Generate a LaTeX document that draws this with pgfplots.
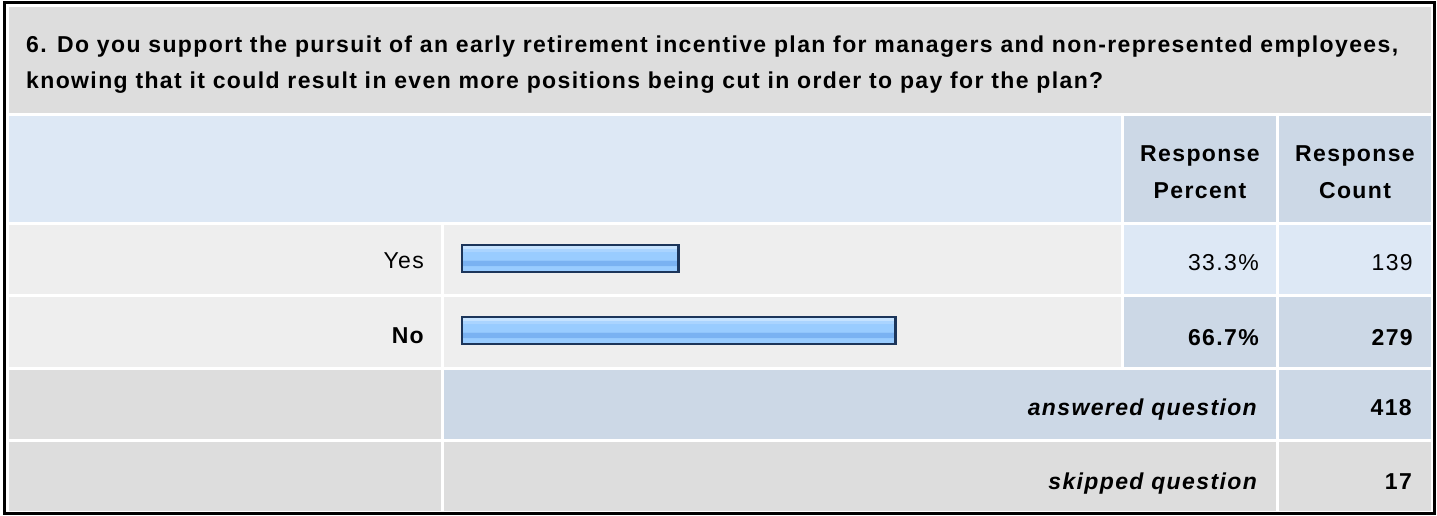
\documentclass[border=0pt]{standalone}
\usepackage{fontspec}
\usepackage{pgfplots}
\pgfplotsset{compat=1.18}
\setmainfont{Liberation Sans}[LetterSpace=6]

\definecolor{hdrgray}{HTML}{DDDDDD}
\definecolor{ltblue}{HTML}{DDE8F5}
\definecolor{midblue}{HTML}{CCD8E6}
\definecolor{rowgray}{HTML}{EEEEEE}
\definecolor{barline}{HTML}{1C355A}
\definecolor{bB}{HTML}{99CCFF}
\definecolor{bD}{HTML}{7AB2F2}
\definecolor{bL}{HTML}{AAD4FF}
\definecolor{bT}{HTML}{C6E3FF}

% banded fill of the bars (bottom -> top, box mapped to 25bp..75bp)
\pgfdeclareverticalshading{barshade}{100bp}{color(0bp)=(bB); color(25bp)=(bB);
  color(36bp)=(bB); color(37bp)=(bD); color(46.5bp)=(bD); color(47.5bp)=(bB);
  color(62bp)=(bB); color(63bp)=(bL); color(68.5bp)=(bL); color(69.5bp)=(bT);
  color(75bp)=(bT); color(100bp)=(bT)}

\begin{document}
\begin{tikzpicture}[txt/.style={inner sep=0pt, font=\fontsize{23}{36}\selectfont}]
% layout axis: one unit = one pixel of the reference, y from the top
\begin{axis}[
  name=lay, at={(0,0)}, anchor=south west,
  scale only axis, width=1437pt, height=515pt,
  xmin=0, xmax=1437, ymin=0, ymax=515, y dir=reverse,
  hide axis, clip=false]
\fill[white] (axis cs:0,0) rectangle (axis cs:1437,515);
\draw[black, line width=3pt] (axis cs:4.5,2) rectangle (axis cs:1434.5,513.5);
% title
\fill[hdrgray] (axis cs:9,7) rectangle (axis cs:1431,113);
% header row
\fill[ltblue] (axis cs:9,116) rectangle (axis cs:1121,222);
\fill[midblue] (axis cs:1124,116) rectangle (axis cs:1276,222);
\fill[midblue] (axis cs:1279,116) rectangle (axis cs:1431,222);
% Yes
\fill[rowgray] (axis cs:9,225) rectangle (axis cs:441,294);
\fill[rowgray] (axis cs:444,225) rectangle (axis cs:1121,294);
\fill[ltblue] (axis cs:1124,225) rectangle (axis cs:1276,294);
\fill[ltblue] (axis cs:1279,225) rectangle (axis cs:1431,294);
% No
\fill[rowgray] (axis cs:9,297) rectangle (axis cs:441,367);
\fill[rowgray] (axis cs:444,297) rectangle (axis cs:1121,367);
\fill[midblue] (axis cs:1124,297) rectangle (axis cs:1276,367);
\fill[midblue] (axis cs:1279,297) rectangle (axis cs:1431,367);
% answered
\fill[hdrgray] (axis cs:9,370) rectangle (axis cs:441,439);
\fill[midblue] (axis cs:444,370) rectangle (axis cs:1276,439);
\fill[midblue] (axis cs:1279,370) rectangle (axis cs:1431,439);
% skipped
\fill[hdrgray] (axis cs:9,442) rectangle (axis cs:441,511);
\fill[hdrgray] (axis cs:444,442) rectangle (axis cs:1276,511);
\fill[hdrgray] (axis cs:1279,442) rectangle (axis cs:1431,511);

\node[txt, anchor=base west] at (axis cs:26,52) {\bfseries 6. Do you support the pursuit of an early retirement incentive plan for managers and non-represented employees,};
\node[txt, anchor=base west] at (axis cs:26,88) {\bfseries knowing that it could result in even more positions being cut in order to pay for the plan?};
\node[txt, anchor=base] at (axis cs:1200,161) {\bfseries Response};
\node[txt, anchor=base] at (axis cs:1200,198) {\bfseries Percent};
\node[txt, anchor=base] at (axis cs:1355,161) {\bfseries Response};
\node[txt, anchor=base] at (axis cs:1355,198) {\bfseries Count};
\node[txt, anchor=base east] at (axis cs:424,268) {Yes};
\node[txt, anchor=base east] at (axis cs:424,343) {\bfseries No};
\node[txt, anchor=base east] at (axis cs:1259,270) {33.3\%};
\node[txt, anchor=base east] at (axis cs:1413,270) {139};
\node[txt, anchor=base east] at (axis cs:1259,345) {\bfseries 66.7\%};
\node[txt, anchor=base east] at (axis cs:1413,345) {\bfseries 279};
\node[txt, anchor=base east] at (axis cs:1257,415) {\bfseries\itshape answered question};
\node[txt, anchor=base east] at (axis cs:1412,415) {\bfseries 418};
\node[txt, anchor=base east] at (axis cs:1257,489) {\bfseries\itshape skipped question};
\node[txt, anchor=base east] at (axis cs:1412,489) {\bfseries 17};
\coordinate (bo) at (axis cs:462,367);
\end{axis}

% bar axis: response percent, 0..100
\begin{axis}[
  at={(bo)}, anchor=south west,
  scale only axis, width=650pt, height=142pt,
  xmin=0, xmax=100, ymin=225, ymax=367, y dir=reverse,
  hide axis, clip=false]
\addplot[xbar, bar shift=0pt, bar width=27pt, draw=barline, line width=2.5pt,
  shade, shading=barshade] coordinates {(33.3,258.5)};
\addplot[xbar, bar shift=0pt, bar width=27pt, draw=barline, line width=2.5pt,
  shade, shading=barshade] coordinates {(66.7,330.5)};
\end{axis}
\end{tikzpicture}
\end{document}
